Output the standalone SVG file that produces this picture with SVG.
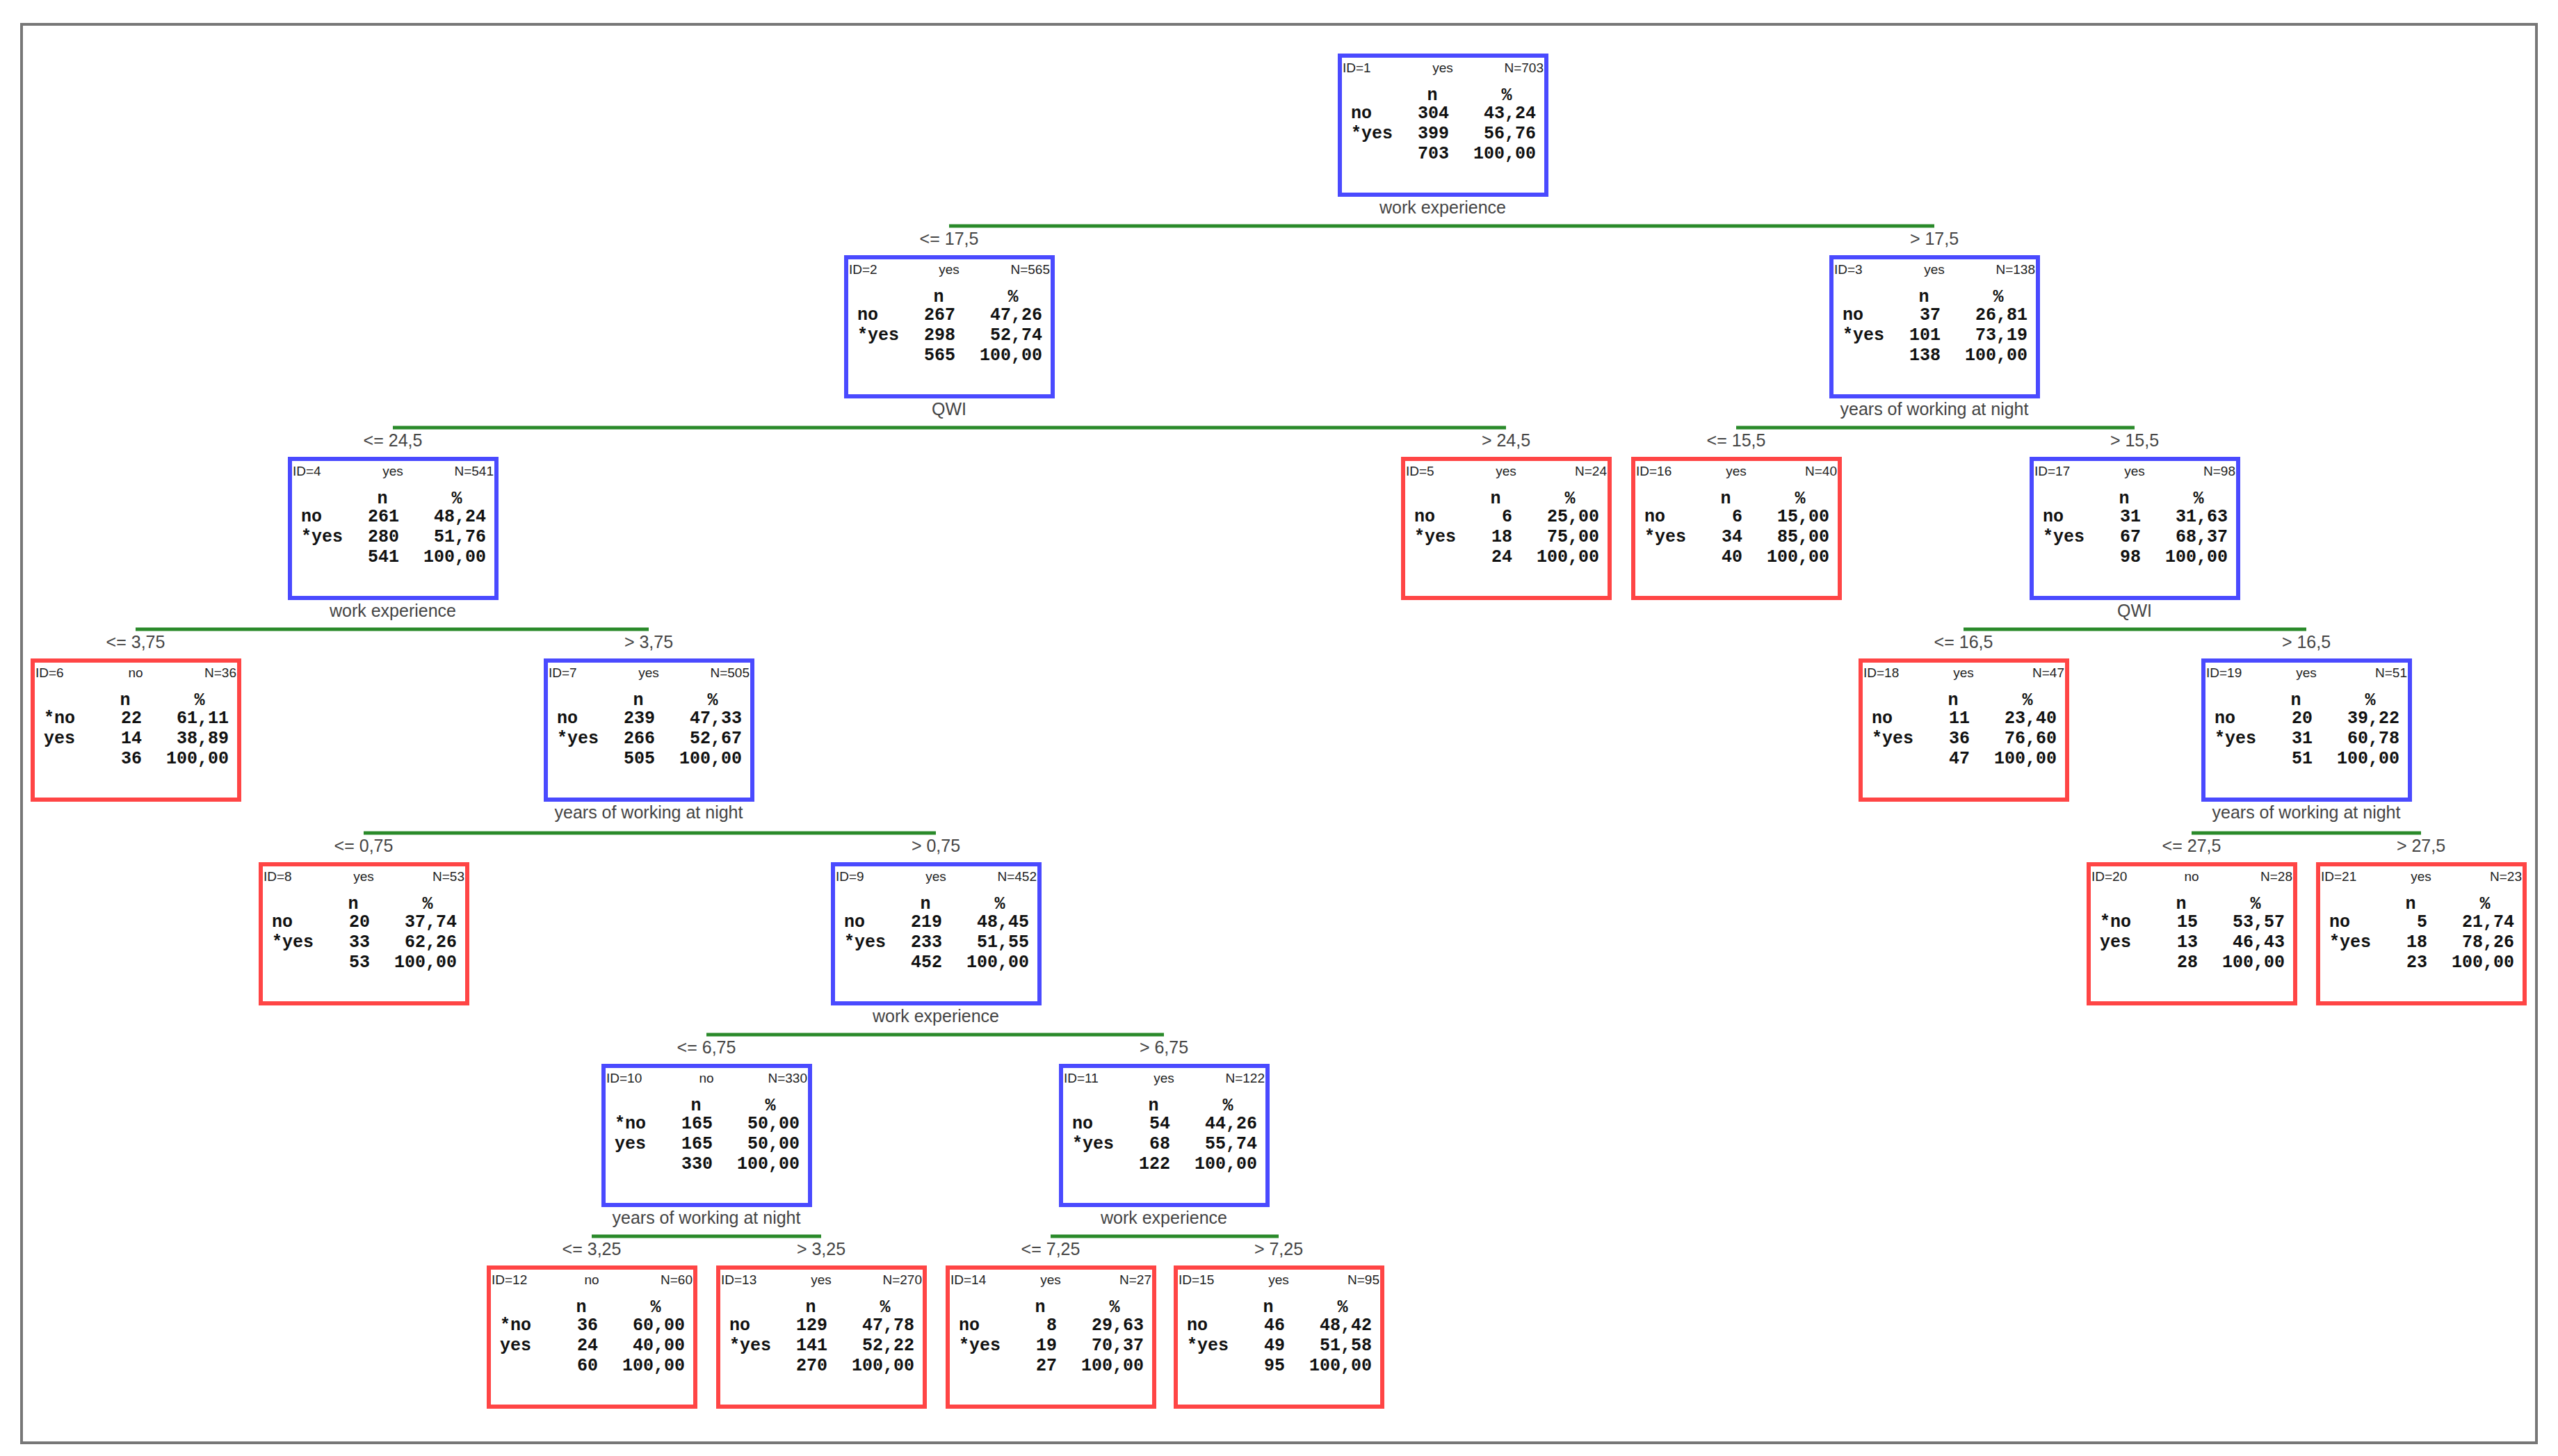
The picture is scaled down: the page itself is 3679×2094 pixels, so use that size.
<svg xmlns="http://www.w3.org/2000/svg" width="3679" height="2094" viewBox="0 0 3679 2094">
<style>
.bg{fill:#fff}
.frame{fill:none;stroke:#777;stroke-width:4}
.b{fill:#fff;stroke:#4a4aff;stroke-width:6}
.r{fill:#fff;stroke:#ff4545;stroke-width:6}
.h{font-family:"Liberation Sans",Arial,sans-serif;font-size:19px;fill:#222}
.m{text-anchor:middle}
.e{text-anchor:end}
.t{font-family:"Liberation Mono","Courier New",monospace;font-weight:bold;font-size:25px;fill:#111}
.lab{font-family:"Liberation Sans",Arial,sans-serif;font-size:25px;fill:#444;text-anchor:middle}
.sp{stroke:#2a8a2a;stroke-width:5;fill:none}
</style>
<rect class="bg" width="3679" height="2094"/>
<rect class="frame" x="31" y="35" width="3617" height="2040"/>
<g id="connectors">
<line class="sp" x1="1365" y1="325" x2="2782" y2="325"/>
<text class="lab" x="1365" y="352">&lt;= 17,5</text><text class="lab" x="2782" y="352">&gt; 17,5</text>
<line class="sp" x1="565" y1="615" x2="2166" y2="615"/>
<text class="lab" x="565" y="642">&lt;= 24,5</text><text class="lab" x="2166" y="642">&gt; 24,5</text>
<line class="sp" x1="2497" y1="615" x2="3070" y2="615"/>
<text class="lab" x="2497" y="642">&lt;= 15,5</text><text class="lab" x="3070" y="642">&gt; 15,5</text>
<line class="sp" x1="195" y1="905" x2="933" y2="905"/>
<text class="lab" x="195" y="932">&lt;= 3,75</text><text class="lab" x="933" y="932">&gt; 3,75</text>
<line class="sp" x1="2824" y1="905" x2="3317" y2="905"/>
<text class="lab" x="2824" y="932">&lt;= 16,5</text><text class="lab" x="3317" y="932">&gt; 16,5</text>
<line class="sp" x1="523" y1="1198" x2="1346" y2="1198"/>
<text class="lab" x="523" y="1225">&lt;= 0,75</text><text class="lab" x="1346" y="1225">&gt; 0,75</text>
<line class="sp" x1="3152" y1="1198" x2="3482" y2="1198"/>
<text class="lab" x="3152" y="1225">&lt;= 27,5</text><text class="lab" x="3482" y="1225">&gt; 27,5</text>
<line class="sp" x1="1016" y1="1488" x2="1674" y2="1488"/>
<text class="lab" x="1016" y="1515">&lt;= 6,75</text><text class="lab" x="1674" y="1515">&gt; 6,75</text>
<line class="sp" x1="851" y1="1778" x2="1181" y2="1778"/>
<text class="lab" x="851" y="1805">&lt;= 3,25</text><text class="lab" x="1181" y="1805">&gt; 3,25</text>
<line class="sp" x1="1511" y1="1778" x2="1839" y2="1778"/>
<text class="lab" x="1511" y="1805">&lt;= 7,25</text><text class="lab" x="1839" y="1805">&gt; 7,25</text>
</g>
<g id="n1" transform="translate(1927,80)"><rect class="b" width="297" height="200"/><text class="h" x="4" y="24">ID=1</text><text class="h m" x="148" y="24">yes</text><text class="h e" x="293" y="24">N=703</text><text class="t m" x="133" y="64">n</text><text class="t m" x="240" y="64">%</text><text class="t" x="16" y="90">no</text><text class="t e" x="157" y="90">304</text><text class="t e" x="282" y="90">43,24</text><text class="t" x="16" y="119">*yes</text><text class="t e" x="157" y="119">399</text><text class="t e" x="282" y="119">56,76</text><text class="t e" x="157" y="148">703</text><text class="t e" x="282" y="148">100,00</text><text class="lab" x="148" y="227">work experience</text></g>
<g id="n2" transform="translate(1217,370)"><rect class="b" width="297" height="200"/><text class="h" x="4" y="24">ID=2</text><text class="h m" x="148" y="24">yes</text><text class="h e" x="293" y="24">N=565</text><text class="t m" x="133" y="64">n</text><text class="t m" x="240" y="64">%</text><text class="t" x="16" y="90">no</text><text class="t e" x="157" y="90">267</text><text class="t e" x="282" y="90">47,26</text><text class="t" x="16" y="119">*yes</text><text class="t e" x="157" y="119">298</text><text class="t e" x="282" y="119">52,74</text><text class="t e" x="157" y="148">565</text><text class="t e" x="282" y="148">100,00</text><text class="lab" x="148" y="227">QWI</text></g>
<g id="n3" transform="translate(2634,370)"><rect class="b" width="297" height="200"/><text class="h" x="4" y="24">ID=3</text><text class="h m" x="148" y="24">yes</text><text class="h e" x="293" y="24">N=138</text><text class="t m" x="133" y="64">n</text><text class="t m" x="240" y="64">%</text><text class="t" x="16" y="90">no</text><text class="t e" x="157" y="90">37</text><text class="t e" x="282" y="90">26,81</text><text class="t" x="16" y="119">*yes</text><text class="t e" x="157" y="119">101</text><text class="t e" x="282" y="119">73,19</text><text class="t e" x="157" y="148">138</text><text class="t e" x="282" y="148">100,00</text><text class="lab" x="148" y="227">years of working at night</text></g>
<g id="n4" transform="translate(417,660)"><rect class="b" width="297" height="200"/><text class="h" x="4" y="24">ID=4</text><text class="h m" x="148" y="24">yes</text><text class="h e" x="293" y="24">N=541</text><text class="t m" x="133" y="64">n</text><text class="t m" x="240" y="64">%</text><text class="t" x="16" y="90">no</text><text class="t e" x="157" y="90">261</text><text class="t e" x="282" y="90">48,24</text><text class="t" x="16" y="119">*yes</text><text class="t e" x="157" y="119">280</text><text class="t e" x="282" y="119">51,76</text><text class="t e" x="157" y="148">541</text><text class="t e" x="282" y="148">100,00</text><text class="lab" x="148" y="227">work experience</text></g>
<g id="n5" transform="translate(2018,660)"><rect class="r" width="297" height="200"/><text class="h" x="4" y="24">ID=5</text><text class="h m" x="148" y="24">yes</text><text class="h e" x="293" y="24">N=24</text><text class="t m" x="133" y="64">n</text><text class="t m" x="240" y="64">%</text><text class="t" x="16" y="90">no</text><text class="t e" x="157" y="90">6</text><text class="t e" x="282" y="90">25,00</text><text class="t" x="16" y="119">*yes</text><text class="t e" x="157" y="119">18</text><text class="t e" x="282" y="119">75,00</text><text class="t e" x="157" y="148">24</text><text class="t e" x="282" y="148">100,00</text></g>
<g id="n16" transform="translate(2349,660)"><rect class="r" width="297" height="200"/><text class="h" x="4" y="24">ID=16</text><text class="h m" x="148" y="24">yes</text><text class="h e" x="293" y="24">N=40</text><text class="t m" x="133" y="64">n</text><text class="t m" x="240" y="64">%</text><text class="t" x="16" y="90">no</text><text class="t e" x="157" y="90">6</text><text class="t e" x="282" y="90">15,00</text><text class="t" x="16" y="119">*yes</text><text class="t e" x="157" y="119">34</text><text class="t e" x="282" y="119">85,00</text><text class="t e" x="157" y="148">40</text><text class="t e" x="282" y="148">100,00</text></g>
<g id="n17" transform="translate(2922,660)"><rect class="b" width="297" height="200"/><text class="h" x="4" y="24">ID=17</text><text class="h m" x="148" y="24">yes</text><text class="h e" x="293" y="24">N=98</text><text class="t m" x="133" y="64">n</text><text class="t m" x="240" y="64">%</text><text class="t" x="16" y="90">no</text><text class="t e" x="157" y="90">31</text><text class="t e" x="282" y="90">31,63</text><text class="t" x="16" y="119">*yes</text><text class="t e" x="157" y="119">67</text><text class="t e" x="282" y="119">68,37</text><text class="t e" x="157" y="148">98</text><text class="t e" x="282" y="148">100,00</text><text class="lab" x="148" y="227">QWI</text></g>
<g id="n6" transform="translate(47,950)"><rect class="r" width="297" height="200"/><text class="h" x="4" y="24">ID=6</text><text class="h m" x="148" y="24">no</text><text class="h e" x="293" y="24">N=36</text><text class="t m" x="133" y="64">n</text><text class="t m" x="240" y="64">%</text><text class="t" x="16" y="90">*no</text><text class="t e" x="157" y="90">22</text><text class="t e" x="282" y="90">61,11</text><text class="t" x="16" y="119">yes</text><text class="t e" x="157" y="119">14</text><text class="t e" x="282" y="119">38,89</text><text class="t e" x="157" y="148">36</text><text class="t e" x="282" y="148">100,00</text></g>
<g id="n7" transform="translate(785,950)"><rect class="b" width="297" height="200"/><text class="h" x="4" y="24">ID=7</text><text class="h m" x="148" y="24">yes</text><text class="h e" x="293" y="24">N=505</text><text class="t m" x="133" y="64">n</text><text class="t m" x="240" y="64">%</text><text class="t" x="16" y="90">no</text><text class="t e" x="157" y="90">239</text><text class="t e" x="282" y="90">47,33</text><text class="t" x="16" y="119">*yes</text><text class="t e" x="157" y="119">266</text><text class="t e" x="282" y="119">52,67</text><text class="t e" x="157" y="148">505</text><text class="t e" x="282" y="148">100,00</text><text class="lab" x="148" y="227">years of working at night</text></g>
<g id="n18" transform="translate(2676,950)"><rect class="r" width="297" height="200"/><text class="h" x="4" y="24">ID=18</text><text class="h m" x="148" y="24">yes</text><text class="h e" x="293" y="24">N=47</text><text class="t m" x="133" y="64">n</text><text class="t m" x="240" y="64">%</text><text class="t" x="16" y="90">no</text><text class="t e" x="157" y="90">11</text><text class="t e" x="282" y="90">23,40</text><text class="t" x="16" y="119">*yes</text><text class="t e" x="157" y="119">36</text><text class="t e" x="282" y="119">76,60</text><text class="t e" x="157" y="148">47</text><text class="t e" x="282" y="148">100,00</text></g>
<g id="n19" transform="translate(3169,950)"><rect class="b" width="297" height="200"/><text class="h" x="4" y="24">ID=19</text><text class="h m" x="148" y="24">yes</text><text class="h e" x="293" y="24">N=51</text><text class="t m" x="133" y="64">n</text><text class="t m" x="240" y="64">%</text><text class="t" x="16" y="90">no</text><text class="t e" x="157" y="90">20</text><text class="t e" x="282" y="90">39,22</text><text class="t" x="16" y="119">*yes</text><text class="t e" x="157" y="119">31</text><text class="t e" x="282" y="119">60,78</text><text class="t e" x="157" y="148">51</text><text class="t e" x="282" y="148">100,00</text><text class="lab" x="148" y="227">years of working at night</text></g>
<g id="n8" transform="translate(375,1243)"><rect class="r" width="297" height="200"/><text class="h" x="4" y="24">ID=8</text><text class="h m" x="148" y="24">yes</text><text class="h e" x="293" y="24">N=53</text><text class="t m" x="133" y="64">n</text><text class="t m" x="240" y="64">%</text><text class="t" x="16" y="90">no</text><text class="t e" x="157" y="90">20</text><text class="t e" x="282" y="90">37,74</text><text class="t" x="16" y="119">*yes</text><text class="t e" x="157" y="119">33</text><text class="t e" x="282" y="119">62,26</text><text class="t e" x="157" y="148">53</text><text class="t e" x="282" y="148">100,00</text></g>
<g id="n9" transform="translate(1198,1243)"><rect class="b" width="297" height="200"/><text class="h" x="4" y="24">ID=9</text><text class="h m" x="148" y="24">yes</text><text class="h e" x="293" y="24">N=452</text><text class="t m" x="133" y="64">n</text><text class="t m" x="240" y="64">%</text><text class="t" x="16" y="90">no</text><text class="t e" x="157" y="90">219</text><text class="t e" x="282" y="90">48,45</text><text class="t" x="16" y="119">*yes</text><text class="t e" x="157" y="119">233</text><text class="t e" x="282" y="119">51,55</text><text class="t e" x="157" y="148">452</text><text class="t e" x="282" y="148">100,00</text><text class="lab" x="148" y="227">work experience</text></g>
<g id="n20" transform="translate(3004,1243)"><rect class="r" width="297" height="200"/><text class="h" x="4" y="24">ID=20</text><text class="h m" x="148" y="24">no</text><text class="h e" x="293" y="24">N=28</text><text class="t m" x="133" y="64">n</text><text class="t m" x="240" y="64">%</text><text class="t" x="16" y="90">*no</text><text class="t e" x="157" y="90">15</text><text class="t e" x="282" y="90">53,57</text><text class="t" x="16" y="119">yes</text><text class="t e" x="157" y="119">13</text><text class="t e" x="282" y="119">46,43</text><text class="t e" x="157" y="148">28</text><text class="t e" x="282" y="148">100,00</text></g>
<g id="n21" transform="translate(3334,1243)"><rect class="r" width="297" height="200"/><text class="h" x="4" y="24">ID=21</text><text class="h m" x="148" y="24">yes</text><text class="h e" x="293" y="24">N=23</text><text class="t m" x="133" y="64">n</text><text class="t m" x="240" y="64">%</text><text class="t" x="16" y="90">no</text><text class="t e" x="157" y="90">5</text><text class="t e" x="282" y="90">21,74</text><text class="t" x="16" y="119">*yes</text><text class="t e" x="157" y="119">18</text><text class="t e" x="282" y="119">78,26</text><text class="t e" x="157" y="148">23</text><text class="t e" x="282" y="148">100,00</text></g>
<g id="n10" transform="translate(868,1533)"><rect class="b" width="297" height="200"/><text class="h" x="4" y="24">ID=10</text><text class="h m" x="148" y="24">no</text><text class="h e" x="293" y="24">N=330</text><text class="t m" x="133" y="64">n</text><text class="t m" x="240" y="64">%</text><text class="t" x="16" y="90">*no</text><text class="t e" x="157" y="90">165</text><text class="t e" x="282" y="90">50,00</text><text class="t" x="16" y="119">yes</text><text class="t e" x="157" y="119">165</text><text class="t e" x="282" y="119">50,00</text><text class="t e" x="157" y="148">330</text><text class="t e" x="282" y="148">100,00</text><text class="lab" x="148" y="227">years of working at night</text></g>
<g id="n11" transform="translate(1526,1533)"><rect class="b" width="297" height="200"/><text class="h" x="4" y="24">ID=11</text><text class="h m" x="148" y="24">yes</text><text class="h e" x="293" y="24">N=122</text><text class="t m" x="133" y="64">n</text><text class="t m" x="240" y="64">%</text><text class="t" x="16" y="90">no</text><text class="t e" x="157" y="90">54</text><text class="t e" x="282" y="90">44,26</text><text class="t" x="16" y="119">*yes</text><text class="t e" x="157" y="119">68</text><text class="t e" x="282" y="119">55,74</text><text class="t e" x="157" y="148">122</text><text class="t e" x="282" y="148">100,00</text><text class="lab" x="148" y="227">work experience</text></g>
<g id="n12" transform="translate(703,1823)"><rect class="r" width="297" height="200"/><text class="h" x="4" y="24">ID=12</text><text class="h m" x="148" y="24">no</text><text class="h e" x="293" y="24">N=60</text><text class="t m" x="133" y="64">n</text><text class="t m" x="240" y="64">%</text><text class="t" x="16" y="90">*no</text><text class="t e" x="157" y="90">36</text><text class="t e" x="282" y="90">60,00</text><text class="t" x="16" y="119">yes</text><text class="t e" x="157" y="119">24</text><text class="t e" x="282" y="119">40,00</text><text class="t e" x="157" y="148">60</text><text class="t e" x="282" y="148">100,00</text></g>
<g id="n13" transform="translate(1033,1823)"><rect class="r" width="297" height="200"/><text class="h" x="4" y="24">ID=13</text><text class="h m" x="148" y="24">yes</text><text class="h e" x="293" y="24">N=270</text><text class="t m" x="133" y="64">n</text><text class="t m" x="240" y="64">%</text><text class="t" x="16" y="90">no</text><text class="t e" x="157" y="90">129</text><text class="t e" x="282" y="90">47,78</text><text class="t" x="16" y="119">*yes</text><text class="t e" x="157" y="119">141</text><text class="t e" x="282" y="119">52,22</text><text class="t e" x="157" y="148">270</text><text class="t e" x="282" y="148">100,00</text></g>
<g id="n14" transform="translate(1363,1823)"><rect class="r" width="297" height="200"/><text class="h" x="4" y="24">ID=14</text><text class="h m" x="148" y="24">yes</text><text class="h e" x="293" y="24">N=27</text><text class="t m" x="133" y="64">n</text><text class="t m" x="240" y="64">%</text><text class="t" x="16" y="90">no</text><text class="t e" x="157" y="90">8</text><text class="t e" x="282" y="90">29,63</text><text class="t" x="16" y="119">*yes</text><text class="t e" x="157" y="119">19</text><text class="t e" x="282" y="119">70,37</text><text class="t e" x="157" y="148">27</text><text class="t e" x="282" y="148">100,00</text></g>
<g id="n15" transform="translate(1691,1823)"><rect class="r" width="297" height="200"/><text class="h" x="4" y="24">ID=15</text><text class="h m" x="148" y="24">yes</text><text class="h e" x="293" y="24">N=95</text><text class="t m" x="133" y="64">n</text><text class="t m" x="240" y="64">%</text><text class="t" x="16" y="90">no</text><text class="t e" x="157" y="90">46</text><text class="t e" x="282" y="90">48,42</text><text class="t" x="16" y="119">*yes</text><text class="t e" x="157" y="119">49</text><text class="t e" x="282" y="119">51,58</text><text class="t e" x="157" y="148">95</text><text class="t e" x="282" y="148">100,00</text></g>
</svg>
